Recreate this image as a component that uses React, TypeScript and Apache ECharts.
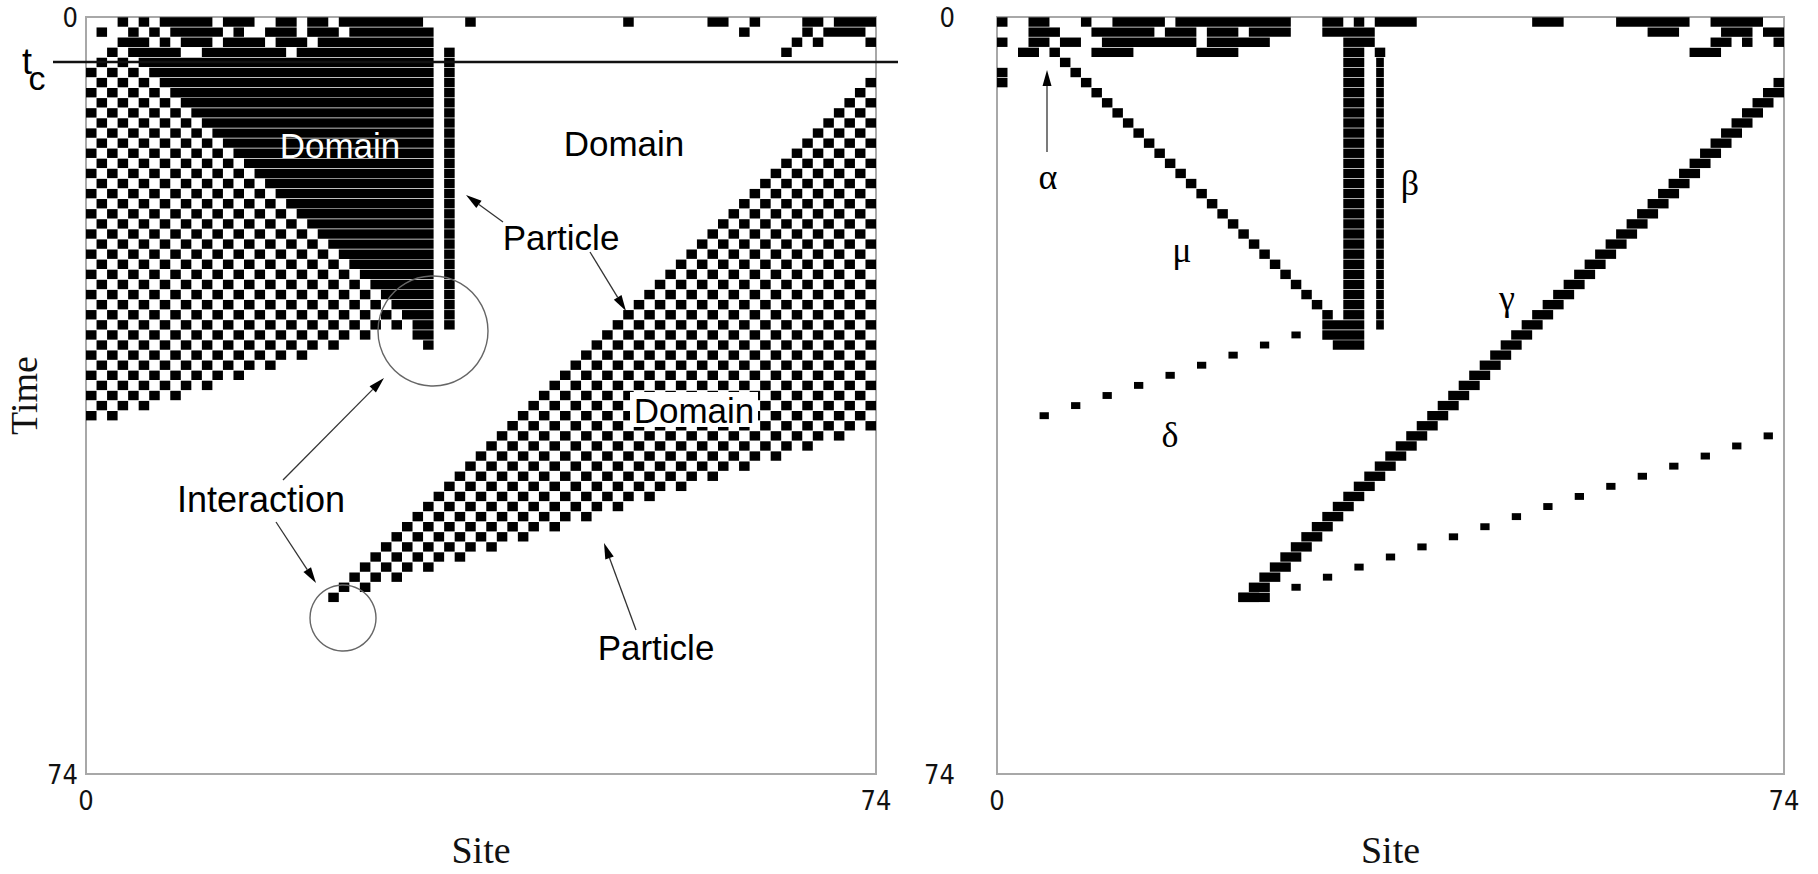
import { useEffect, useRef } from 'react';
import * as echarts from 'echarts';

// ---------------- data ----------------
const SITE_MAX = 75; // 75 sites / 75 time steps, labelled 0..74
const TICK_VALUES = [0, 75];
const TICK_LABELS = ['0', '74'];

// Left panel (raw space-time diagram): black runs of the first 4 rows [start, end]
const LEFT_TOP_RUNS: number[][][] = [
  [[3, 3], [5, 5], [7, 11], [13, 15], [18, 19], [21, 22], [24, 31], [36, 36], [51, 51], [59, 60], [63, 63], [68, 69], [71, 74]],
  [[1, 1], [4, 4], [6, 6], [8, 12], [14, 14], [17, 19], [21, 23], [25, 32], [62, 62], [68, 68], [70, 73]],
  [[3, 5], [7, 7], [9, 11], [13, 16], [18, 20], [22, 32], [67, 67], [69, 69], [74, 74]],
  [[2, 2], [4, 8], [11, 18], [20, 32], [34, 34], [66, 66]],
];
// checkerboard domain on the left: right-most site per row, from row 4
const L_CHK_A_FIRST_ROW = 4;
const L_CHK_A_RIGHT = [4, 5, 6, 7, 8, 9, 10, 11, 12, 13, 14, 15, 16, 17, 18, 19, 20, 21, 22, 23, 24, 25, 26, 27, 28, 29, 30, 27, 24, 21, 18, 15, 12, 9, 6, 3];
// all-black domain: left site per row, from row 4, ends at site 32
const L_BLACK_FIRST_ROW = 4;
const L_BLACK_LEFT = [5, 6, 7, 8, 9, 10, 11, 12, 13, 14, 15, 16, 17, 18, 19, 20, 21, 22, 23, 24, 25, 26, 27, 28, 29, 30, 31];
const L_BLACK_RIGHT = 32;
// stationary particle column and its rows
const L_PARTICLE_SITE = 34;
const L_PARTICLE_ROWS = [4, 30];
// interaction cells [row, start, end]
const L_INTERACTION = [[31, 31, 32], [32, 32, 32]];
// right checkerboard band (wraps around): left edge (gamma particle) and right edge per row, from row 6
const BAND_FIRST_ROW = 6;
const GAMMA_SITES = [74, 73, 72, 71, 70, 69, 68, 67, 66, 65, 64, 63, 62, 61, 60, 59, 58, 57, 56, 55, 54, 53, 52, 51, 50, 49, 48, 47, 46, 45, 44, 43, 42, 41, 40, 39, 38, 37, 36, 35, 34, 33, 32, 31, 30, 29, 28, 27, 26, 25, 24, 23];
const L_CHK_B_RIGHT = [74, 74, 74, 74, 74, 74, 74, 74, 74, 74, 74, 74, 74, 74, 74, 74, 74, 74, 74, 74, 74, 74, 74, 74, 74, 74, 74, 74, 74, 74, 74, 74, 74, 74, 74, 72, 69, 66, 63, 60, 57, 54, 51, 48, 45, 42, 39, 36, 33, 30, 27, 24];

// Right panel (filtered diagram): first 4 rows
const RIGHT_TOP_RUNS: number[][][] = [
  [[0, 0], [3, 4], [8, 8], [11, 15], [17, 27], [31, 32], [34, 34], [36, 39], [51, 53], [59, 65], [68, 72]],
  [[3, 5], [9, 14], [16, 18], [20, 22], [24, 27], [31, 35], [62, 64], [69, 71], [73, 74]],
  [[0, 0], [3, 4], [6, 7], [10, 18], [20, 25], [33, 35], [68, 69], [71, 71], [74, 74]],
  [[2, 3], [5, 5], [9, 12], [19, 22], [33, 34], [36, 36], [66, 68]],
];
const R_MU_FIRST_ROW = 4;
const R_MU = [6, 7, 8, 9, 10, 11, 12, 13, 14, 15, 16, 17, 18, 19, 20, 21, 22, 23, 24, 25, 26, 27, 28, 29, 30, 31];
const R_BETA_WIDE = [33, 34];
const R_BETA_WIDE_ROWS = [4, 29];
const R_BETA_THIN = 36;
const R_BETA_THIN_ROWS = [4, 30];
const R_DELTA_FIRST_ROW = 31;
const R_DELTA = [28, 25, 22, 19, 16, 13, 10, 7, 4, null, 73, 70, 67, 64, 61, 58, 55, 52, 49, 46, 43, 40, 37, 34, 31, 28];
const R_GAMMA_WIDTH = 2;
// other black cells [row, start, end]
const R_EXTRA = [[5, 0, 0], [6, 0, 0], [30, 31, 34], [31, 31, 34], [32, 32, 34], [57, 23, 25]];

// ---------------- build items: [start, end, row, kind] ----------------
// kind 0 solid, 1 checker (black on odd s+t), 2 checker (black on even s+t), 3 dot, 4 thin column
type Item = [number, number, number, number];

function buildLeft(): Item[] {
  const out: Item[] = [];
  LEFT_TOP_RUNS.forEach((runs, t) => runs.forEach(([a, b]) => out.push([a, b, t, 0])));
  L_CHK_A_RIGHT.forEach((r, i) => out.push([0, r, L_CHK_A_FIRST_ROW + i, 1]));
  L_BLACK_LEFT.forEach((l, i) => out.push([l, L_BLACK_RIGHT, L_BLACK_FIRST_ROW + i, 0]));
  for (let t = L_PARTICLE_ROWS[0]; t <= L_PARTICLE_ROWS[1]; t++) out.push([L_PARTICLE_SITE, L_PARTICLE_SITE, t, 0]);
  L_INTERACTION.forEach(([t, a, b]) => out.push([a, b, t, 0]));
  GAMMA_SITES.forEach((l, i) => out.push([l, L_CHK_B_RIGHT[i], BAND_FIRST_ROW + i, 2]));
  return out;
}

function buildRight(): Item[] {
  const out: Item[] = [];
  RIGHT_TOP_RUNS.forEach((runs, t) => runs.forEach(([a, b]) => out.push([a, b, t, 0])));
  R_MU.forEach((s, i) => out.push([s, s, R_MU_FIRST_ROW + i, 0]));
  for (let t = R_BETA_WIDE_ROWS[0]; t <= R_BETA_WIDE_ROWS[1]; t++) out.push([R_BETA_WIDE[0], R_BETA_WIDE[1], t, 0]);
  for (let t = R_BETA_THIN_ROWS[0]; t <= R_BETA_THIN_ROWS[1]; t++) out.push([R_BETA_THIN, R_BETA_THIN, t, 4]);
  R_DELTA.forEach((s, i) => { if (s !== null) out.push([s, s, R_DELTA_FIRST_ROW + i, 3]); });
  GAMMA_SITES.forEach((s, i) => out.push([s, Math.min(s + R_GAMMA_WIDTH - 1, SITE_MAX - 1), BAND_FIRST_ROW + i, 0]));
  R_EXTRA.forEach(([t, a, b]) => out.push([a, b, t, 0]));
  return out;
}

// ---------------- styling ----------------
const FONT_SANS = '"Liberation Sans", Arial, sans-serif';
const FONT_SERIF = '"Liberation Serif", "Times New Roman", serif';
const FONT_NARROW = '"Liberation Sans Narrow", "DejaVu Sans Condensed", "Liberation Sans", sans-serif';
const GAP = 0.35;

function renderCells(params: any, api: any) {
  const s0 = api.value(0), s1 = api.value(1), t = api.value(2), kind = api.value(3);
  const rect = (a: number, b: number, ix: number, iy: number) => {
    const p0 = api.coord([a, t]);
    const p1 = api.coord([b + 1, t + 1]);
    return {
      type: 'rect',
      shape: { x: p0[0] + ix, y: p0[1] + iy, width: p1[0] - p0[0] - 2 * ix, height: p1[1] - p0[1] - 2 * iy },
      style: { fill: '#000' },
    };
  };
  if (kind === 0) return rect(s0, s1, 0, GAP);
  if (kind === 3) return rect(s0, s1, 0.6, 1.6);
  if (kind === 4) return rect(s0, s1, 1.4, GAP);
  const parity = kind === 1 ? 1 : 0;
  const children: any[] = [];
  for (let s = s0; s <= s1; s++) if ((s + t) % 2 === parity) children.push(rect(s, s, 0, GAP));
  return { type: 'group', children };
}

function arrow(x1: number, y1: number, x2: number, y2: number) {
  const a = Math.atan2(y2 - y1, x2 - x1);
  const L = 16, W = 4.5;
  const bx = x2 - L * Math.cos(a), by = y2 - L * Math.sin(a);
  return [
    { type: 'line', z: 50, shape: { x1, y1, x2: bx, y2: by }, style: { stroke: '#333', lineWidth: 1.3 } },
    {
      type: 'polygon', z: 50,
      shape: { points: [[x2, y2], [bx + W * Math.sin(a), by - W * Math.cos(a)], [bx - W * Math.sin(a), by + W * Math.cos(a)]] },
      style: { fill: '#000' },
    },
  ];
}

function label(text: string, x: number, y: number, size: number, family: string, fill = '#000') {
  return { type: 'text', z: 60, x, y, style: { text, fontSize: size, fontFamily: family, fill, align: 'center', verticalAlign: 'middle' } };
}

function axisPair(i: number, withName: boolean, yMargin: number) {
  const tickFmt = (v: number) => TICK_LABELS[TICK_VALUES.indexOf(v)] ?? '';
  const lbl = { fontSize: 27, fontFamily: FONT_NARROW, color: '#111' };
  return {
    x: {
      type: 'value', gridIndex: i, min: 0, max: SITE_MAX, interval: SITE_MAX,
      axisLine: { show: false }, axisTick: { show: false }, splitLine: { show: false },
      axisLabel: { ...lbl, formatter: tickFmt, margin: 13, showMinLabel: true, showMaxLabel: true },
      name: 'Site', nameLocation: 'middle', nameGap: 57,
      nameTextStyle: { fontFamily: FONT_SERIF, fontSize: 38, color: '#111' },
    },
    y: {
      type: 'value', gridIndex: i, min: 0, max: SITE_MAX, interval: SITE_MAX, inverse: true,
      axisLine: { show: false }, axisTick: { show: false }, splitLine: { show: false },
      axisLabel: { ...lbl, formatter: tickFmt, margin: yMargin, showMinLabel: true, showMaxLabel: true },
      name: withName ? 'Time' : '', nameLocation: 'middle', nameGap: 36, nameRotate: 90,
      nameTextStyle: { fontFamily: FONT_SERIF, fontSize: 38, color: '#111' },
    },
  };
}

export default function App() {
  const ref = useRef<HTMLDivElement>(null);
  useEffect(() => {
    const chart = echarts.init(ref.current!, undefined, { renderer: 'svg' });
    const a0 = axisPair(0, true, 8);
    const a1 = axisPair(1, false, 42);
    const graphic: any[] = [
      // t_c marker line
      { type: 'line', z: 55, shape: { x1: 53, y1: 62, x2: 898, y2: 62 }, style: { stroke: '#111', lineWidth: 2.5 } },
      label('t', 27, 61, 36, FONT_SANS),
      label('c', 37, 78, 34, FONT_SANS),
      // left annotations
      label('Domain', 340, 145, 35, FONT_SANS, '#fff'),
      label('Domain', 624, 143, 35, FONT_SANS),
      { type: 'rect', z: 58, shape: { x: 630, y: 392, width: 128, height: 35 }, style: { fill: '#fff' } },
      label('Domain', 694, 410, 35, FONT_SANS),
      label('Particle', 561, 237, 35, FONT_SANS),
      label('Particle', 656, 647, 35, FONT_SANS),
      label('Interaction', 261, 499, 36, FONT_SANS),
      ...arrow(503, 222, 466, 195),
      ...arrow(590, 252, 626, 311),
      ...arrow(636, 630, 604, 543),
      ...arrow(283, 480, 384, 378),
      ...arrow(276, 522, 316, 583),
      { type: 'circle', z: 50, shape: { cx: 433, cy: 331, r: 55 }, style: { fill: 'none', stroke: '#666', lineWidth: 1.4 } },
      { type: 'circle', z: 50, shape: { cx: 343, cy: 618, r: 33 }, style: { fill: 'none', stroke: '#666', lineWidth: 1.4 } },
      // right annotations
      label('α', 1048, 177, 36, FONT_SERIF),
      ...arrow(1047, 152, 1047, 70),
      label('β', 1410, 183, 36, FONT_SERIF),
      label('μ', 1182, 250, 36, FONT_SERIF),
      label('γ', 1507, 298, 36, FONT_SERIF),
      label('δ', 1170, 435, 36, FONT_SERIF),
    ];
    chart.setOption({
      animation: false,
      backgroundColor: '#fff',
      grid: [
        { left: 86, top: 17, width: 790, height: 789, show: true, borderColor: '#a8a8a8', borderWidth: 2, backgroundColor: 'transparent' },
        { left: 997, top: 17, width: 787, height: 789, show: true, borderColor: '#a8a8a8', borderWidth: 2, backgroundColor: 'transparent' },
      ],
      xAxis: [a0.x, a1.x],
      yAxis: [a0.y, a1.y],
      series: [
        {
          type: 'custom', coordinateSystem: 'cartesian2d', xAxisIndex: 0, yAxisIndex: 0, silent: true, clip: true,
          encode: { x: [0, 1], y: 2 }, data: buildLeft(), renderItem: renderCells,
        },
        {
          type: 'custom', coordinateSystem: 'cartesian2d', xAxisIndex: 1, yAxisIndex: 1, silent: true, clip: true,
          encode: { x: [0, 1], y: 2 }, data: buildRight(), renderItem: renderCells,
        },
      ],
      graphic,
    });
    return () => chart.dispose();
  }, []);
  return <div ref={ref} style={{ position: 'fixed', left: 0, top: 0, width: 1818, height: 874, background: '#fff' }} />;
}
